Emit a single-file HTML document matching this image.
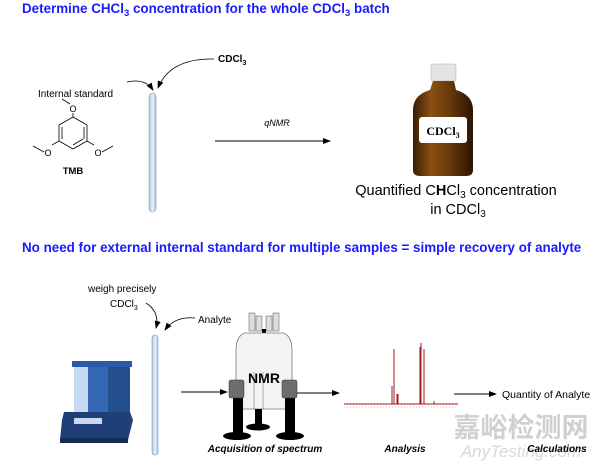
<!DOCTYPE html>
<html><head><meta charset="utf-8"><style>
html,body{margin:0;padding:0;background:#fff;}
svg{display:block;font-family:"Liberation Sans",Arial,sans-serif;}
</style></head><body>
<svg width="600" height="467" viewBox="0 0 600 467" xmlns="http://www.w3.org/2000/svg">
<defs>
<marker id="ah" markerWidth="8" markerHeight="6" refX="7" refY="3" orient="auto" markerUnits="userSpaceOnUse"><path d="M0,0 L8,3 L0,6 Z" fill="#000"/></marker>
<linearGradient id="tube" x1="0" x2="1"><stop offset="0" stop-color="#a9c4e0"/><stop offset="0.5" stop-color="#e8f1fa"/><stop offset="1" stop-color="#a9c4e0"/></linearGradient>
<linearGradient id="bot" x1="0" x2="1"><stop offset="0" stop-color="#3a1c05"/><stop offset="0.3" stop-color="#8a4f12"/><stop offset="0.6" stop-color="#6a3a0a"/><stop offset="1" stop-color="#2a1404"/></linearGradient>
</defs>
<text x="22" y="13" font-size="13.4" font-weight="bold" fill="#1a1aff">Determine CHCl<tspan font-size="9.5" dy="3">3</tspan><tspan dy="-3">  concentration for the whole CDCl</tspan><tspan font-size="9.5" dy="3">3</tspan><tspan dy="-3"> batch</tspan></text>
<text x="22" y="252" font-size="13.4" font-weight="bold" fill="#1a1aff">No need for external internal standard for multiple samples = simple recovery of analyte</text>

<text x="218" y="62" font-size="10" font-weight="bold">CDCl<tspan font-size="7" dy="3">3</tspan></text>
<path d="M214,59 Q170,58 158,88" fill="none" stroke="#000" stroke-width="0.8" marker-end="url(#ah)"/>
<path d="M127,82 Q145,78 153,90" fill="none" stroke="#000" stroke-width="0.8" marker-end="url(#ah)"/>
<text x="38" y="97" font-size="10">Internal standard</text>
<rect x="149" y="93" width="7" height="119" rx="3.5" fill="url(#tube)" stroke="#7d9cc0" stroke-width="0.6"/>
<g stroke="#000" stroke-width="0.8" fill="none">
<polygon points="73,117 87,125 87,141 73,149 59,141 59,125"/>
<line x1="84" y1="127" x2="84" y2="139"/><line x1="62" y1="139" x2="62" y2="127"/><line x1="73" y1="145" x2="83" y2="139"/>
<line x1="73" y1="117" x2="73" y2="113"/><line x1="70" y1="104" x2="62" y2="99"/>
<line x1="59" y1="141" x2="52" y2="145"/><line x1="44" y1="152" x2="33" y2="146"/>
<line x1="87" y1="141" x2="94" y2="145"/><line x1="102" y1="152" x2="113" y2="146"/>
</g>
<text x="73" y="112" font-size="9" text-anchor="middle">O</text>
<text x="48" y="156" font-size="9" text-anchor="middle">O</text>
<text x="98" y="156" font-size="9" text-anchor="middle">O</text>
<text x="73" y="174" font-size="9.5" font-weight="bold" text-anchor="middle">TMB</text>
<text x="277" y="126" font-size="9" font-style="italic" text-anchor="middle">qNMR</text>
<line x1="215" y1="141" x2="330" y2="141" stroke="#000" stroke-width="0.9" marker-end="url(#ah)"/>
<rect x="431" y="64" width="25" height="17" rx="2" fill="#e4e4e4" stroke="#aaa" stroke-width="0.5"/>
<path d="M433,81 L454,81 L456,90 Q473,95 473,110 L473,170 Q473,176 466,176 L420,176 Q413,176 413,170 L413,110 Q413,95 430,90 Z" fill="url(#bot)"/>
<rect x="419" y="117" width="48" height="26" rx="3" fill="#fff"/>
<text x="443" y="135" font-size="12" font-weight="bold" font-family="Liberation Serif,serif" text-anchor="middle">CDCl<tspan font-size="8" dy="3">3</tspan></text>
<text x="456" y="195" font-size="14.5" text-anchor="middle">Quantified C<tspan font-weight="bold">H</tspan>Cl<tspan font-size="10" dy="3">3</tspan><tspan dy="-3"> concentration</tspan></text>
<text x="458" y="214" font-size="14.5" text-anchor="middle">in CDCl<tspan font-size="10" dy="3">3</tspan></text>

<text x="88" y="292" font-size="10">weigh precisely</text>
<text x="110" y="307" font-size="10">CDCl<tspan font-size="7" dy="3">3</tspan></text>
<path d="M146,303 Q160,312 156,328" fill="none" stroke="#000" stroke-width="0.8" marker-end="url(#ah)"/>
<path d="M195,318 Q175,316 165,330" fill="none" stroke="#000" stroke-width="0.8" marker-end="url(#ah)"/>
<text x="198" y="323" font-size="10">Analyte</text>
<rect x="152" y="335" width="6" height="120" rx="3" fill="url(#tube)" stroke="#7d9cc0" stroke-width="0.6"/>
<rect x="72" y="361" width="60" height="6" fill="#2b5aa8"/>
<rect x="74" y="367" width="14" height="45" fill="#b8d0ef" opacity="0.8"/>
<rect x="88" y="367" width="20" height="45" fill="#3467b5"/>
<rect x="108" y="367" width="22" height="48" fill="#24508f"/>
<polygon points="64,412 130,412 133,420 128,440 60,440 62,420" fill="#1f3f78"/>
<rect x="74" y="418" width="28" height="6" fill="#c9d8ee"/>
<rect x="60" y="438" width="68" height="5" fill="#142c55"/>
<line x1="181" y1="392" x2="227" y2="392" stroke="#000" stroke-width="0.9" marker-end="url(#ah)"/>
<g>
<rect x="249" y="313" width="6" height="18" fill="#ddd" stroke="#555" stroke-width="0.5"/>
<rect x="256" y="316" width="6" height="15" fill="#ddd" stroke="#555" stroke-width="0.5"/>
<rect x="266" y="316" width="6" height="15" fill="#ddd" stroke="#555" stroke-width="0.5"/>
<rect x="273" y="313" width="6" height="18" fill="#ddd" stroke="#555" stroke-width="0.5"/>
<rect x="262" y="329" width="4" height="4" fill="#000"/>
<path d="M245,333 L283,333 Q292,336 292,350 L292,405 Q292,409 288,409 L240,409 Q236,409 236,405 L236,350 Q236,336 245,333 Z" fill="#f3f3f3" stroke="#777" stroke-width="0.8"/>
<line x1="254" y1="372" x2="254" y2="409" stroke="#777" stroke-width="0.6"/>
<line x1="263" y1="372" x2="263" y2="409" stroke="#777" stroke-width="0.6"/>
<text x="264" y="383" font-size="14" font-weight="bold" text-anchor="middle">NMR</text>
<rect x="255" y="409" width="7" height="17" fill="#000"/><ellipse cx="258" cy="427" rx="12" ry="3.5" fill="#000"/>
<rect x="233" y="397" width="10" height="36" fill="#000"/><ellipse cx="237" cy="436" rx="14" ry="4" fill="#000"/>
<rect x="285" y="397" width="10" height="36" fill="#000"/><ellipse cx="290" cy="436" rx="14" ry="4" fill="#000"/>
<rect x="229" y="380" width="15" height="18" rx="2" fill="#6d6d6d" stroke="#333" stroke-width="0.5"/>
<rect x="282" y="380" width="15" height="18" rx="2" fill="#6d6d6d" stroke="#333" stroke-width="0.5"/>
</g>
<line x1="297" y1="393" x2="339" y2="393" stroke="#000" stroke-width="0.9" marker-end="url(#ah)"/>
<g stroke="#a01818" stroke-width="1" fill="none">
<line x1="344" y1="404" x2="458" y2="404"/>
<line x1="392" y1="404" x2="392" y2="386"/><line x1="394" y1="404" x2="394" y2="349"/>
<line x1="397" y1="404" x2="397" y2="394"/><line x1="398" y1="404" x2="398" y2="394"/>
<line x1="420" y1="404" x2="420" y2="347"/><line x1="421" y1="404" x2="421" y2="343"/><line x1="424" y1="404" x2="424" y2="349"/>
<line x1="434" y1="404" x2="434" y2="401"/>
</g>
<line x1="344" y1="407" x2="458" y2="407" stroke="#888" stroke-width="0.6" stroke-dasharray="1 2"/>
<line x1="454" y1="394" x2="496" y2="394" stroke="#000" stroke-width="0.9" marker-end="url(#ah)"/>
<text x="502" y="398" font-size="10.5">Quantity of Analyte</text>
<text x="521" y="437" font-size="27" fill="#d0d0d0" text-anchor="middle" font-family="Noto Sans CJK SC,sans-serif" font-weight="bold">嘉峪检测网</text>
<text x="521" y="457" font-size="17" fill="#d8d8d8" text-anchor="middle" font-style="italic">AnyTesting.com</text>
<g font-size="10" font-weight="bold" font-style="italic">
<text x="265" y="452" text-anchor="middle">Acquisition  of spectrum</text>
<text x="405" y="452" text-anchor="middle">Analysis</text>
<text x="557" y="452" text-anchor="middle">Calculations</text>
</g>
</svg>
</body></html>
